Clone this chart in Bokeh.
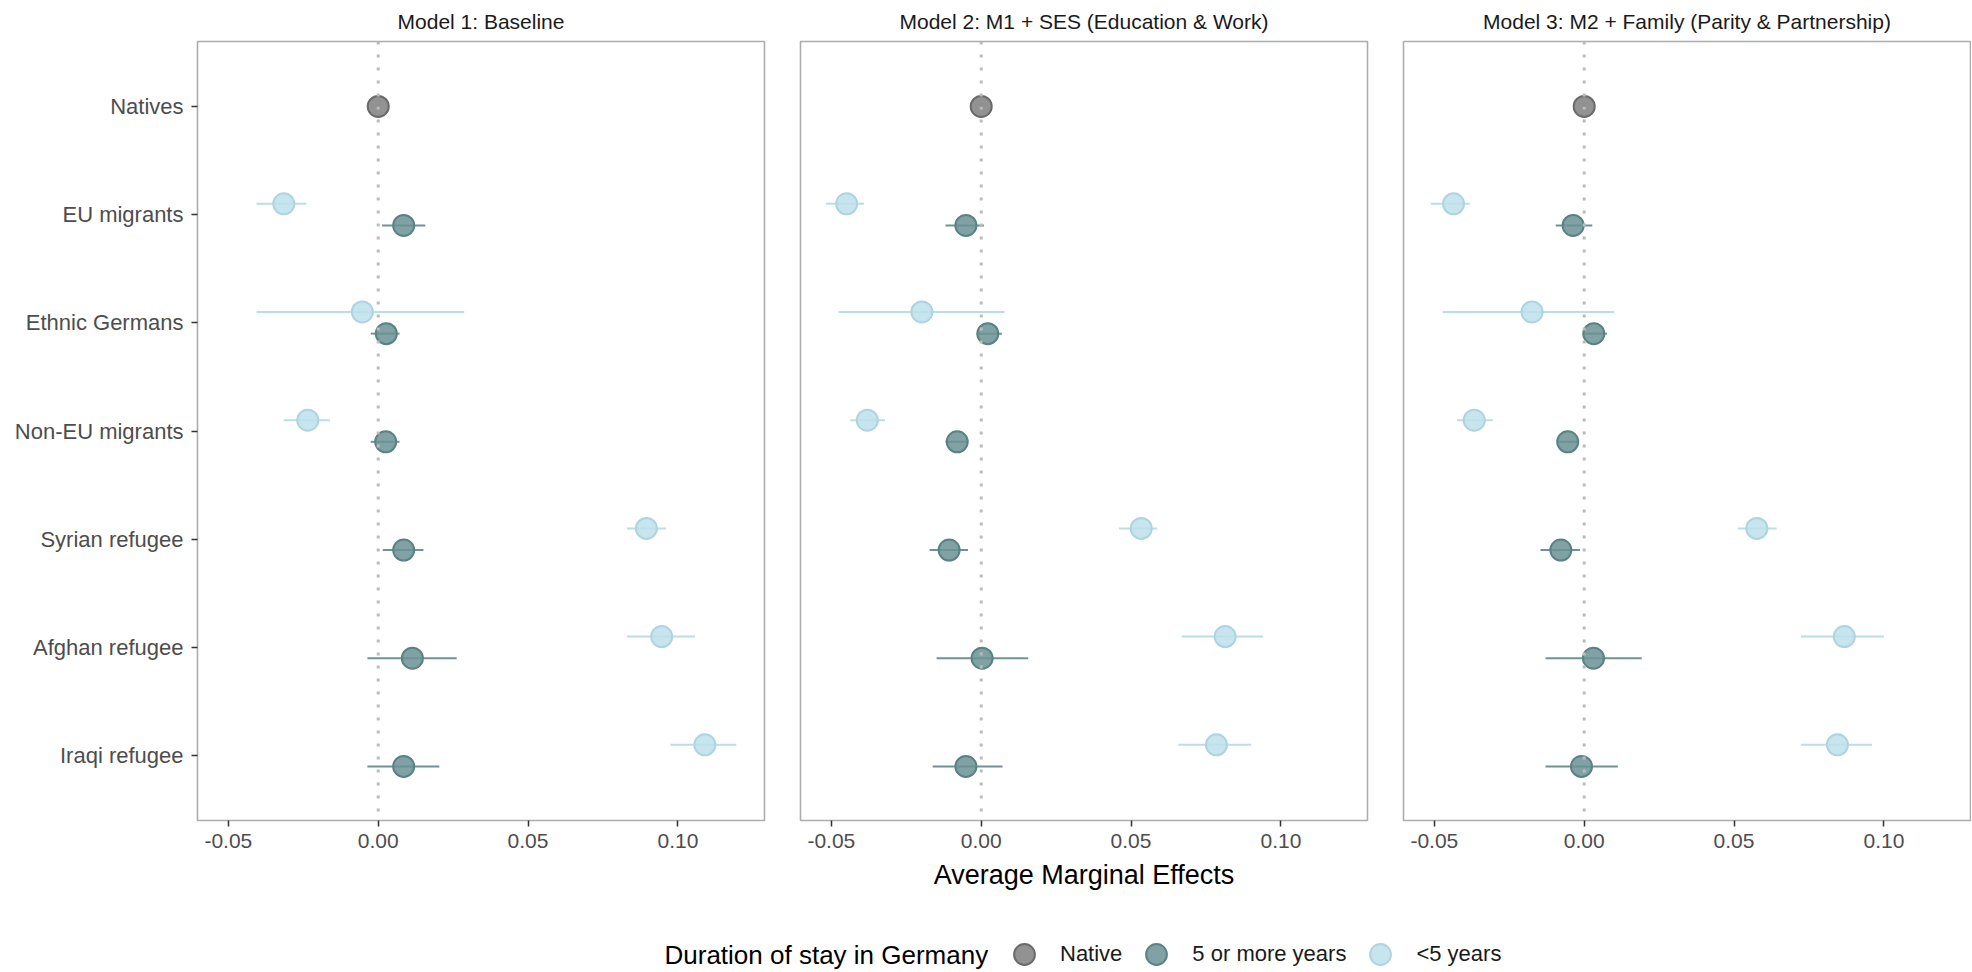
from bokeh.plotting import figure
from bokeh.models import (ColumnDataSource, FactorRange, Range1d, FixedTicker,
                          NumeralTickFormatter, Span, Legend, LegendItem, Label)
from bokeh.transform import dodge
from bokeh.layouts import column, row
from bokeh.embed import file_html
from bokeh.resources import INLINE

# ---------------- data ----------------
categories = ["Natives", "EU migrants", "Ethnic Germans", "Non-EU migrants",
              "Syrian refugee", "Afghan refugee", "Iraqi refugee"]
migrant_groups = categories[1:]
models = ["Model 1: Baseline",
          "Model 2: M1 + SES (Education & Work)",
          "Model 3: M2 + Family (Parity & Partnership)"]
groups = ["Native", "5 or more years", "<5 years"]
x_ticks = [-0.05, 0.0, 0.05, 0.10]
x_title = "Average Marginal Effects"
legend_title = "Duration of stay in Germany"

native_est = [0.0, 0.0, 0.0]
native_lo = [-0.0004, -0.0004, -0.0004]
native_hi = [0.0004, 0.0004, 0.0004]

m1_long_est = [0.0085, 0.0027, 0.0025, 0.0085, 0.0114, 0.0085]
m1_long_lo = [0.0013, -0.0025, -0.0025, 0.0015, -0.0036, -0.0036]
m1_long_hi = [0.0157, 0.0071, 0.0071, 0.0151, 0.0262, 0.0204]
m1_short_est = [-0.0315, -0.0053, -0.0235, 0.0895, 0.0946, 0.1090]
m1_short_lo = [-0.0406, -0.0406, -0.0315, 0.0830, 0.0830, 0.0975]
m1_short_hi = [-0.0240, 0.0287, -0.0161, 0.0960, 0.1057, 0.1195]

m2_long_est = [-0.0051, 0.0022, -0.0080, -0.0107, 0.0003, -0.0051]
m2_long_lo = [-0.0119, -0.0015, -0.0119, -0.0172, -0.0149, -0.0162]
m2_long_hi = [0.0009, 0.0069, -0.0044, -0.0044, 0.0157, 0.0071]
m2_short_est = [-0.0449, -0.0198, -0.0380, 0.0534, 0.0814, 0.0785]
m2_short_lo = [-0.0518, -0.0476, -0.0437, 0.0460, 0.0669, 0.0658]
m2_short_hi = [-0.0391, 0.0078, -0.0321, 0.0587, 0.0941, 0.0900]

m3_long_est = [-0.0037, 0.0032, -0.0055, -0.0078, 0.0031, -0.0009]
m3_long_lo = [-0.0095, -0.0005, -0.0090, -0.0146, -0.0129, -0.0129]
m3_long_hi = [0.0027, 0.0076, -0.0021, -0.0014, 0.0192, 0.0112]
m3_short_est = [-0.0436, -0.0174, -0.0367, 0.0576, 0.0868, 0.0845]
m3_short_lo = [-0.0512, -0.0472, -0.0424, 0.0513, 0.0723, 0.0723]
m3_short_hi = [-0.0382, 0.0101, -0.0305, 0.0642, 0.1000, 0.0960]

long_data = [(m1_long_est, m1_long_lo, m1_long_hi),
             (m2_long_est, m2_long_lo, m2_long_hi),
             (m3_long_est, m3_long_lo, m3_long_hi)]
short_data = [(m1_short_est, m1_short_lo, m1_short_hi),
              (m2_short_est, m2_short_lo, m2_short_hi),
              (m3_short_est, m3_short_lo, m3_short_hi)]

# ---------------- styles ----------------
FONT = "Liberation Sans"
FRAME_W, FRAME_H = 567, 779
TOP, BOTTOM = 41, 80
GAP = 18
LEFT = 197

style = {
    "Native": dict(fill="#7f7f7f", line="#6a6a6a", bar="#7a7a7a", off=0.0),
    "5 or more years": dict(fill="#6b9294", line="#5a8183", bar="#6f9395", off=-0.1),
    "<5 years": dict(fill="#bde0eb", line="#aed4e0", bar="#bcdce6", off=0.1),
}

x_range = Range1d(-0.0603, 0.1289)


def make_panel(i):
    left = LEFT if i == 0 else GAP
    right = GAP if i < 2 else 1
    p = figure(width=left + FRAME_W + right, height=TOP + FRAME_H + BOTTOM,
               x_range=x_range,
               y_range=FactorRange(factors=categories[::-1], range_padding=0.1,
                                   range_padding_units="absolute"),
               y_axis_location="left" if i == 0 else None,
               output_backend="svg", toolbar_location=None,
               min_border_left=left, min_border_right=right,
               min_border_top=TOP, min_border_bottom=BOTTOM,
               title=models[i])
    p.background_fill_color = "white"
    p.border_fill_color = "white"
    p.outline_line_color = "#adadad"
    p.outline_line_width = 1.6
    p.xgrid.grid_line_color = None
    p.ygrid.grid_line_color = None

    p.title.align = "center"
    p.title.vertical_align = "top"
    p.title.text_font = FONT
    p.title.text_font_size = "21px"
    p.title.text_font_style = "normal"
    p.title.text_color = "#1a1a1a"
    p.title.standoff = 14

    xa = p.xaxis[0]
    xa.ticker = FixedTicker(ticks=x_ticks, minor_ticks=[])
    xa.formatter = NumeralTickFormatter(format="0.00")
    xa.axis_line_color = None
    xa.major_tick_line_color = "#333333"
    xa.major_tick_line_width = 1.5
    xa.major_tick_out = 6
    xa.major_tick_in = 0
    xa.minor_tick_line_color = None
    xa.major_label_text_font = FONT
    xa.major_label_text_font_size = "21px"
    xa.major_label_text_color = "#4d4d4d"
    xa.major_label_standoff = 7
    if i == 1:
        xa.axis_label = x_title
        xa.axis_label_text_font = FONT
        xa.axis_label_text_font_size = "27px"
        xa.axis_label_text_font_style = "normal"
        xa.axis_label_text_color = "#000000"
        xa.axis_label_standoff = 9

    if i == 0:
        ya = p.yaxis[0]
        ya.axis_line_color = None
        ya.major_tick_line_color = "#333333"
        ya.major_tick_line_width = 1.5
        ya.major_tick_out = 6
        ya.major_tick_in = 0
        ya.major_label_text_font = FONT
        ya.major_label_text_font_size = "22px"
        ya.major_label_text_color = "#4d4d4d"
        ya.major_label_standoff = 8

    p.add_layout(Span(location=0, dimension="height", line_color="#bbbbbb",
                      line_width=3, line_dash="3 10"))

    sources = {
        "Native": dict(cat=[categories[0]], est=[native_est[i]],
                       lo=[native_lo[i]], hi=[native_hi[i]]),
        "5 or more years": dict(cat=migrant_groups, est=long_data[i][0],
                                lo=long_data[i][1], hi=long_data[i][2]),
        "<5 years": dict(cat=migrant_groups, est=short_data[i][0],
                         lo=short_data[i][1], hi=short_data[i][2]),
    }
    for g in ["<5 years", "5 or more years", "Native"]:
        s = style[g]
        src = ColumnDataSource(sources[g])
        yd = dodge("cat", s["off"], range=p.y_range)
        p.segment(x0="lo", x1="hi", y0=yd, y1=yd, source=src,
                  line_color=s["bar"], line_width=2)
        p.scatter(x="est", y=yd, source=src, marker="circle", size=21,
                  fill_color=s["fill"], fill_alpha=0.85,
                  line_color=s["line"], line_width=2)
    return p


panels = [make_panel(i) for i in range(3)]
total_w = sum(p.width for p in panels)

# ---------------- legend strip ----------------
LH = 71
lf = figure(width=total_w, height=LH, x_range=Range1d(0, total_w),
            y_range=Range1d(0, LH),
            output_backend="svg", toolbar_location=None,
            min_border=0, min_border_left=0, min_border_right=0,
            min_border_top=0, min_border_bottom=0,
            x_axis_location=None, y_axis_location=None)
lf.outline_line_color = None
lf.xgrid.grid_line_color = None
lf.ygrid.grid_line_color = None
lf.background_fill_color = "white"
lf.border_fill_color = "white"

LEG_Y = 17
lf.add_layout(Label(x=664, y=LEG_Y, text=legend_title, text_font=FONT,
                    text_font_size="26px", text_color="#000000",
                    text_baseline="middle", text_align="left"))

items = []
for g in groups:
    s = style[g]
    r = lf.scatter(x=[0], y=[0], marker="circle", size=21,
                   fill_color=s["fill"], fill_alpha=0.85,
                   line_color=s["line"], line_width=2)
    r.visible = False
    items.append(LegendItem(label=g, renderers=[r]))

leg = Legend(items=items, location=(998, LEG_Y - 26), orientation="horizontal",
             glyph_width=52, glyph_height=52, label_standoff=10, spacing=8,
             padding=0, margin=0, border_line_color=None,
             background_fill_alpha=0, click_policy="none",
             label_text_font=FONT, label_text_font_size="22px",
             label_text_color="#1a1a1a")
lf.add_layout(leg)

layout = column(row(*panels, spacing=0), lf, spacing=0)

open("out.html", "w").write(file_html(layout, INLINE))
